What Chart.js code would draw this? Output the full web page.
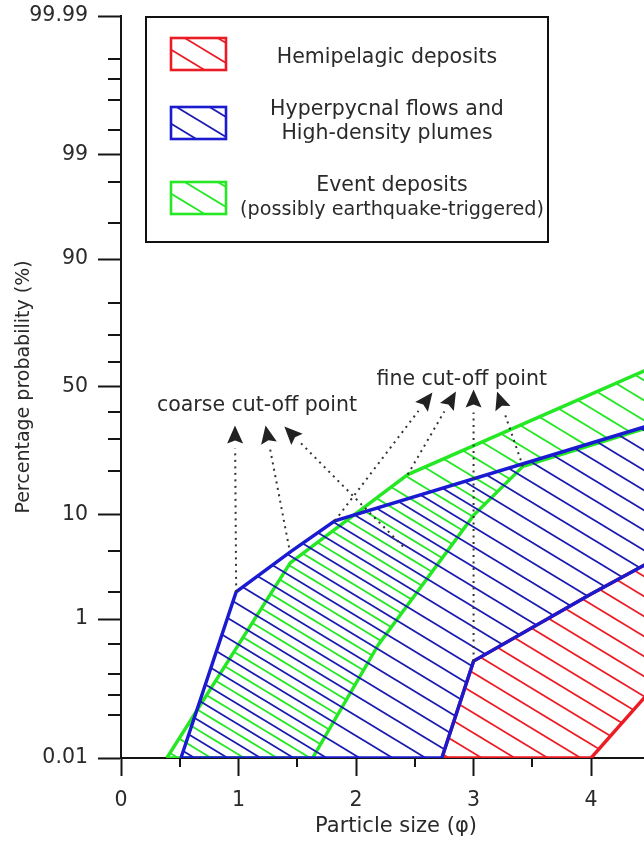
<!DOCTYPE html>
<html>
<head>
<meta charset="utf-8">
<title>Grain-size probability plot</title>
<script src="https://cdn.jsdelivr.net/npm/chart.js@4.4.1/dist/chart.umd.min.js"></script>
<style>
  html, body { margin: 0; padding: 0; background: #fff; overflow: hidden; width: 644px; height: 843px; }
  #wrap { position: relative; width: 672px; height: 843px; }
  canvas { display: block; }
</style>
</head>
<body>
<div id="wrap"><canvas id="chart" width="672" height="843"></canvas></div>
<script>
// ---- axis ticks ----
const majorProb = [0.01, 1, 10, 50, 90, 99, 99.99];
const majorProbLabels = ['0.01', '1', '10', '50', '90', '99', '99.99'];
const minorProb = [0.05, 0.1, 0.2, 0.5, 2, 5, 20, 30, 40, 60, 70, 80, 95, 98, 99.5, 99.8, 99.9, 99.95];
const sizeTicks = [0, 1, 2, 3, 4];
const sizeMinorTicks = [0.5, 1.5, 2.5, 3.5, 4.5];

// ---- field outlines: particle size (phi) and cumulative probability (%) ----
const hemiSize  = [2.73, 3.0, 4.0, 4.8, 4.8, 4.0, 2.73];
const hemiProb  = [0.01, 0.3, 1.9, 5.9, 0.4, 0.01, 0.01];

const hyperSize = [0.51, 0.98, 1.45, 1.82, 4.8, 4.8, 4.0, 3.0, 2.73, 0.51];
const hyperProb = [0.01, 2.0, 5.0, 9.0, 39.1, 5.9, 1.9, 0.3, 0.01, 0.01];

const eventSize = [0.39, 1.44, 2.44, 4.8, 4.8, 3.42, 3.0, 2.19, 1.63, 0.39];
const eventProb = [0.01, 3.9, 19.0, 63.4, 38.5, 21.3, 9.9, 0.49, 0.01, 0.01];

// ---- cut-off point arrows (tail -> tip) ----
const arrowTailSize = [0.98, 1.43, 2.40, 1.82, 2.44, 3.0, 3.42];
const arrowTailProb = [2.0, 5.4, 5.5, 9.0, 19.0, 0.3, 21.3];
const arrowTipSize  = [0.97, 1.23, 1.39, 2.65, 2.85, 3.0, 3.20];
const arrowTipProb  = [35.0, 35.0, 34.6, 47.8, 48.2, 49.0, 48.2];

const noteText = ['coarse cut-off point', 'fine cut-off point'];
const noteSize = [1.157, 2.90];
const noteProb = [42.6, 53.0];

const legendNames = [
  ['Hemipelagic deposits'],
  ['Hyperpycnal flows and', 'High-density plumes'],
  ['Event deposits', '(possibly earthquake-triggered)']
];

// inverse of the standard normal CDF (Acklam)
function probit(p) {
  const a = [-3.969683028665376e+01, 2.209460984245205e+02, -2.759285104469687e+02, 1.383577518672690e+02, -3.066479806614716e+01, 2.506628277459239e+00];
  const b = [-5.447609879822406e+01, 1.615858368580409e+02, -1.556989798598866e+02, 6.680131188771972e+01, -1.328068155288572e+01];
  const c = [-7.784894002430293e-03, -3.223964580411365e-01, -2.400758277161838e+00, -2.549732539343734e+00, 4.374664141464968e+00, 2.938163982698783e+00];
  const d = [7.784695709041462e-03, 3.224671290700398e-01, 2.445134137142996e+00, 3.754408661907416e+00];
  const pl = 0.02425, ph = 1 - pl;
  let q, r;
  if (p < pl) {
    q = Math.sqrt(-2 * Math.log(p));
    return (((((c[0]*q+c[1])*q+c[2])*q+c[3])*q+c[4])*q+c[5]) / ((((d[0]*q+d[1])*q+d[2])*q+d[3])*q+1);
  }
  if (p <= ph) {
    q = p - 0.5; r = q * q;
    return (((((a[0]*r+a[1])*r+a[2])*r+a[3])*r+a[4])*r+a[5])*q / (((((b[0]*r+b[1])*r+b[2])*r+b[3])*r+b[4])*r+1);
  }
  q = Math.sqrt(-2 * Math.log(1 - p));
  return -(((((c[0]*q+c[1])*q+c[2])*q+c[3])*q+c[4])*q+c[5]) / ((((d[0]*q+d[1])*q+d[2])*q+d[3])*q+1);
}
const zOf = pct => probit(pct / 100);

const RED = '#ec1c24', BLUE = '#1a1ad0', GREEN = '#25e825';
const TEXT = '#2a2a2a', AXIS = '#151515';
const FONT = '"DejaVu Sans", "Liberation Sans", sans-serif';

// diagonal hatch pattern, lines running down to the right
function hatch(color, phase, width) {
  const W = 33, H = 20;
  const c = document.createElement('canvas');
  c.width = W; c.height = H;
  const g = c.getContext('2d');
  g.strokeStyle = color;
  g.lineWidth = width;
  for (let k = -2; k <= 2; k++) {
    const y0 = phase + k * H;
    g.beginPath();
    g.moveTo(-W, y0 - H);
    g.lineTo(2 * W, y0 + 2 * H);
    g.stroke();
  }
  return document.getElementById('chart').getContext('2d').createPattern(c, 'repeat');
}

const pts = (xs, ps) => xs.map((x, i) => ({ x: x, y: zOf(ps[i]) }));

const hatchRed = hatch(RED, 6, 1.8);
const hatchBlue = hatch('#1b1bb0', 0, 1.8);
const hatchGreen = hatch(GREEN, 10, 1.9);

function polygon(label, xs, ps, color, pattern) {
  return {
    label: label,
    data: pts(xs, ps),
    showLine: true,
    fill: 'shape',
    backgroundColor: pattern,
    borderColor: color,
    borderWidth: 3.4,
    borderJoinStyle: 'miter',
    pointRadius: 0,
    pointHoverRadius: 0,
    tension: 0
  };
}

// minor ticks, annotations and the boxed key
const extras = {
  id: 'extras',
  afterDatasetsDraw(chart) {
    const ctx = chart.ctx;
    const xs = chart.scales.x, ys = chart.scales.y;
    const px = v => xs.getPixelForValue(v);
    const py = p => ys.getPixelForValue(zOf(p));
    const area = chart.chartArea;

    ctx.save();
    // minor ticks
    ctx.strokeStyle = AXIS;
    ctx.lineWidth = 2;
    ctx.beginPath();
    minorProb.forEach(p => {
      const y = Math.round(py(p));
      ctx.moveTo(area.left - 13, y);
      ctx.lineTo(area.left, y);
    });
    sizeMinorTicks.forEach(v => {
      const x = Math.round(px(v));
      ctx.moveTo(x, area.bottom);
      ctx.lineTo(x, area.bottom + 9);
    });
    ctx.stroke();

    // arrows
    const len = 18, half = 8;
    arrowTailSize.forEach((s, i) => {
      const x0 = px(s), y0 = py(arrowTailProb[i]);
      const x1 = px(arrowTipSize[i]), y1 = py(arrowTipProb[i]);
      const ang = Math.atan2(y1 - y0, x1 - x0);
      const dist = Math.hypot(x1 - x0, y1 - y0);
      const stop = dist - len - 5;
      ctx.strokeStyle = '#333';
      ctx.lineWidth = 2;
      ctx.setLineDash([2, 4.5]);
      ctx.beginPath();
      ctx.moveTo(x0, y0);
      ctx.lineTo(x0 + Math.cos(ang) * stop, y0 + Math.sin(ang) * stop);
      ctx.stroke();
      ctx.setLineDash([]);
      const bx = x1 - Math.cos(ang) * len, by = y1 - Math.sin(ang) * len;
      const nx = -Math.sin(ang), ny = Math.cos(ang);
      const nb = len * 0.84;
      ctx.fillStyle = '#222';
      ctx.beginPath();
      ctx.moveTo(x1, y1);
      ctx.lineTo(bx + nx * half, by + ny * half);
      ctx.lineTo(x1 - Math.cos(ang) * nb, y1 - Math.sin(ang) * nb);
      ctx.lineTo(bx - nx * half, by - ny * half);
      ctx.closePath();
      ctx.fill();
    });

    // notes
    ctx.fillStyle = TEXT;
    ctx.font = '20.5px ' + FONT;
    ctx.textAlign = 'center';
    ctx.textBaseline = 'middle';
    noteText.forEach((t, i) => ctx.fillText(t, px(noteSize[i]), py(noteProb[i])));

    // key box
    const box = { l: 146, t: 17, r: 548, b: 242 };
    ctx.fillStyle = '#ffffff';
    ctx.fillRect(box.l, box.t, box.r - box.l, box.b - box.t);
    ctx.strokeStyle = '#111';
    ctx.lineWidth = 2;
    ctx.strokeRect(box.l, box.t, box.r - box.l, box.b - box.t);

    const keyColors = [RED, BLUE, GREEN];
    const keyPatterns = [hatchRed, hatchBlue, hatchGreen];
    const patchTop = [38, 107, 182];
    const textMid = [58, 122, 198];
    const textX = [387, 387, 392];
    const keySize = [[20.5], [20.5, 20.5], [20.5, 19.2]];
    legendNames.forEach((lines, i) => {
      ctx.fillStyle = keyPatterns[i];
      ctx.fillRect(171, patchTop[i], 55, 32);
      ctx.strokeStyle = keyColors[i];
      ctx.lineWidth = 2.6;
      ctx.strokeRect(171, patchTop[i], 55, 32);
      ctx.fillStyle = TEXT;
      ctx.textAlign = 'center';
      ctx.textBaseline = 'middle';
      const lh = 24;
      const y0 = textMid[i] - (lines.length - 1) * lh / 2;
      lines.forEach((t, j) => {
        ctx.font = keySize[i][j] + 'px ' + FONT;
        ctx.fillText(t, textX[i], y0 + j * lh);
      });
    });
    ctx.restore();
  }
};

Chart.defaults.font.family = FONT;
Chart.defaults.color = TEXT;

new Chart(document.getElementById('chart'), {
  type: 'scatter',
  data: {
    datasets: [
      polygon('Hyperpycnal flows and High-density plumes', hyperSize, hyperProb, BLUE, hatchBlue),
      polygon('Event deposits (possibly earthquake-triggered)', eventSize, eventProb, GREEN, hatchGreen),
      polygon('Hemipelagic deposits', hemiSize, hemiProb, RED, hatchRed)
    ]
  },
  options: {
    responsive: false,
    animation: false,
    events: [],
    layout: { padding: { top: 16, left: 0, right: 1, bottom: 0 } },
    plugins: { legend: { display: false }, tooltip: { enabled: false } },
    scales: {
      x: {
        type: 'linear',
        min: 0,
        max: 4.68,
        afterBuildTicks: s => { s.ticks = sizeTicks.map(v => ({ value: v })); },
        afterFit: s => { s.height = 85; s.paddingLeft = 0; s.paddingRight = 0; },
        ticks: {
          padding: 12,
          font: { size: 20.5 },
          color: TEXT,
          callback: v => String(v)
        },
        grid: {
          display: true, drawOnChartArea: false, drawTicks: true,
          tickLength: 18, tickWidth: 2, tickColor: AXIS
        },
        border: { display: true, width: 2, color: AXIS },
        title: {
          display: true, text: 'Particle size (φ)', color: TEXT,
          font: { size: 21 }, padding: { top: 0, bottom: 4 }
        }
      },
      y: {
        type: 'linear',
        min: zOf(0.01),
        max: zOf(99.99),
        afterBuildTicks: s => { s.ticks = majorProb.map(p => ({ value: zOf(p) })); },
        afterFit: s => { s.width = 121; s.paddingTop = 0; s.paddingBottom = 0; },
        ticks: {
          padding: 10,
          font: { size: 20.5 },
          color: TEXT,
          callback: (v, i) => majorProbLabels[i]
        },
        grid: {
          display: true, drawOnChartArea: false, drawTicks: true,
          tickLength: 23, tickWidth: 2, tickColor: AXIS
        },
        border: { display: true, width: 2, color: AXIS },
        title: {
          display: true, text: 'Percentage probability (%)', color: TEXT,
          font: { size: 19 }, padding: { top: 13, bottom: 0 }
        }
      }
    }
  },
  plugins: [extras]
});
</script>
</body>
</html>
